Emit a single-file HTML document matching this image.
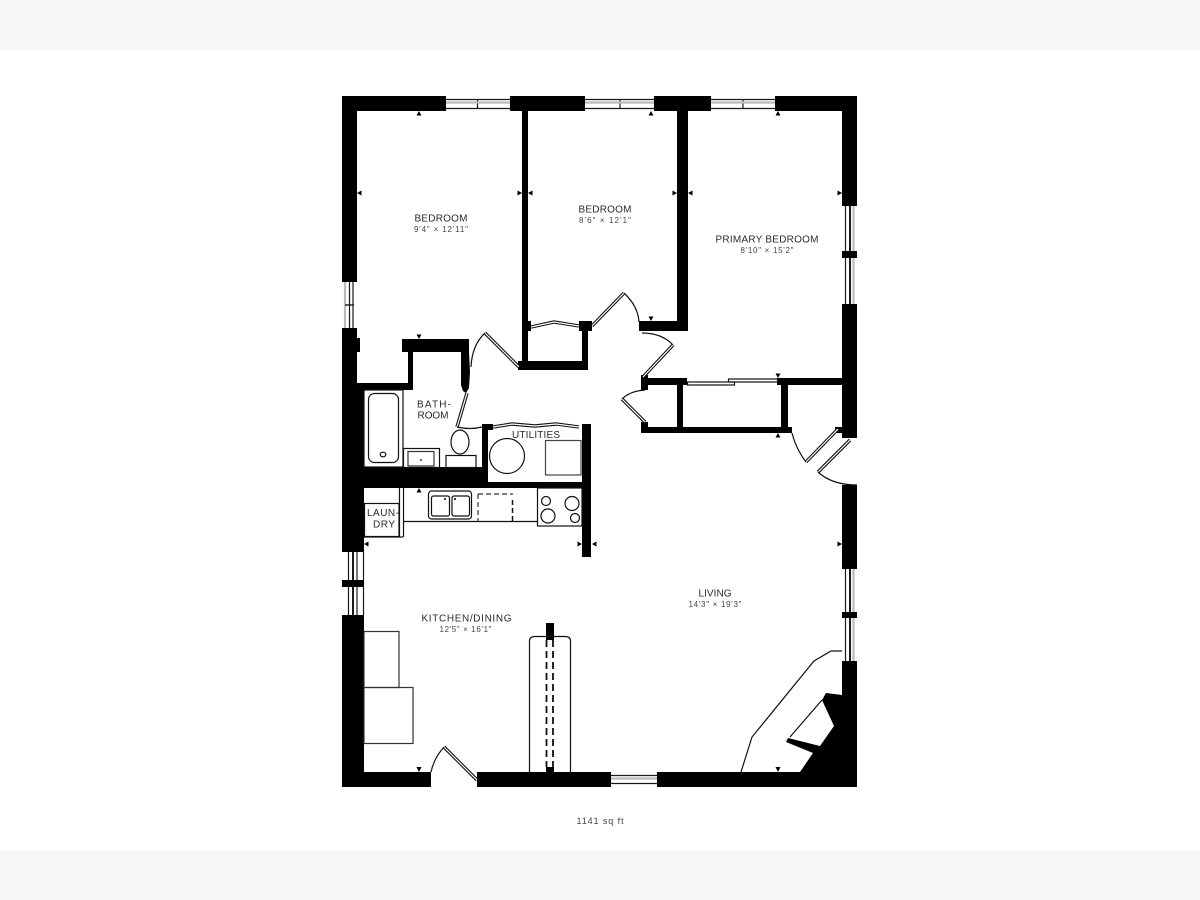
<!DOCTYPE html>
<html><head><meta charset="utf-8"><style>
html,body{margin:0;padding:0;background:#fff}
svg{display:block}
text{font-family:"Liberation Sans",sans-serif;text-anchor:middle;fill:#2a2a2a}
.n{font-size:10px}.d{font-size:8px;fill:#444}
</style></head><body>
<svg width="1200" height="900" viewBox="0 0 1200 900" xmlns="http://www.w3.org/2000/svg">
<rect width="1200" height="900" fill="#fff"/>
<rect width="1200" height="50" fill="#f6f6f8"/>
<rect y="850" width="1200" height="50" fill="#f6f6f8"/>

<!-- windows -->
<g fill="none" stroke="#1a1a1a" stroke-width="1.200">
<path d="M446 99.500H510M446 108.500H510M477.500 99V109M585 99.500H654M585 108.500H654M620 99V109M711 99.500H775M711 108.500H775M743 99V109"/>
<path d="M845.500 206V304M845.500 569V661"/>
<path d="M349.500 282V328M353 282V328"/>
<path d="M348.500 552V615M357 552V615M363.500 552V615"/>
<path d="M611 775.500H657M611 783.500H657"/>
</g>
<g fill="none" stroke="#1a1a1a" stroke-width="2">
<path d="M850 206V304M850 569V661M353 552V615"/>
</g>
<g fill="none" stroke="#bbb" stroke-width="2.200">
<path d="M446 102.500H510M585 102.500H654M711 102.500H775M853.500 206V304M853.500 569V661M345 282V328M611 778.500H657"/>
</g>
<path d="M345 305H354" stroke="#222" stroke-width="1.500"/>

<!-- walls -->
<g fill="#000">
<rect x="342" y="96" width="104" height="15"/>
<rect x="510" y="96" width="75" height="15"/>
<rect x="654" y="96" width="57" height="15"/>
<rect x="775" y="96" width="82" height="15"/>
<rect x="842" y="96" width="15" height="110"/>
<rect x="842" y="251" width="15" height="7"/>
<rect x="842" y="304" width="15" height="134"/>
<rect x="842" y="485" width="15" height="84"/>
<rect x="842" y="612" width="15" height="6"/>
<rect x="842" y="661" width="15" height="126"/>
<rect x="342" y="772" width="89" height="15"/>
<rect x="477" y="772" width="134" height="15"/>
<rect x="657" y="772" width="200" height="15"/>
<rect x="342" y="96" width="15" height="186"/>
<rect x="342" y="328" width="15" height="60"/>
<rect x="357" y="338" width="3" height="14"/>
<rect x="342" y="383" width="22" height="169"/>
<rect x="342" y="580" width="22" height="7"/>
<rect x="342" y="615" width="22" height="172"/>
<rect x="522" y="111" width="6" height="255"/>
<rect x="518" y="361" width="70" height="9"/>
<rect x="582" y="321" width="6" height="42"/>
<rect x="579" y="321" width="13" height="10"/>
<rect x="528" y="321" width="3" height="10"/>
<rect x="677" y="111" width="11" height="220"/>
<rect x="639" y="321" width="49" height="10"/>
<rect x="641" y="378" width="46" height="7"/>
<rect x="777" y="378" width="65" height="7"/>
<rect x="641" y="375" width="7" height="15"/>
<rect x="641" y="422" width="7" height="11"/>
<rect x="641" y="427" width="151" height="6"/>
<rect x="677" y="385" width="6" height="42"/>
<rect x="781" y="385" width="7" height="42"/>
<rect x="835" y="427" width="8" height="6"/>
<rect x="402" y="339" width="67" height="13"/>
<rect x="408" y="352" width="5" height="38"/>
<rect x="357" y="383" width="56" height="7"/>
<polygon points="461,352 469,352 470,372 469,388 466,393 463,391 461,385"/>
<rect x="364" y="467" width="124" height="21"/>
<rect x="482" y="425" width="6" height="45"/>
<rect x="482" y="424" width="11" height="6"/>
<rect x="488" y="482" width="103" height="6"/>
<rect x="582" y="424" width="9" height="133"/>
<rect x="546" y="623" width="8" height="17"/>
<rect x="546" y="767" width="8" height="5"/>
<polygon points="842,695 826,693 822,700 834,726 820,746 788,738 786,742 813,753 800,772 842,772"/>
</g>

<!-- door leaves -->
<g fill="none" stroke="#111" stroke-width="3.400">
<path d="M519 367L485 333M592 326L624 293M673 345L643 377M622 399L645 422M806 462L838 429M818 472L850 440M467 393L457 427M444 747L477 780"/>
<path d="M531 327L554 322L579 326M493 427L512 424L535 426L556 424L579 427"/>
</g>
<g fill="none" stroke="#fff" stroke-width="1.200">
<path d="M519 367L485 333M592 326L624 293M673 345L643 377M622 399L645 422M806 462L838 429M818 472L850 440M467 393L457 427M444 747L477 780"/>
<path d="M531 327L554 322L579 326M493 427L512 424L535 426L556 424L579 427"/>
</g>

<!-- arcs and fixtures -->
<g fill="none" stroke="#111" stroke-width="1.200">
<path d="M471 367Q472 345 485 333"/>
<path d="M624 293Q638 306 639 322"/>
<path d="M642 333Q662 333 673 345"/>
<path d="M645 390Q630 391 622 399"/>
<path d="M792 433Q796 449 806 462"/>
<path d="M818 472Q832 485 857 485"/>
<path d="M457 427Q470 430 482 427"/>
<path d="M431 772Q434 758 444 747"/>
<rect x="687.500" y="382" width="47" height="3"/>
<rect x="728.500" y="379" width="49" height="3"/>
<rect x="364" y="390" width="39" height="77"/>
<rect x="368.500" y="393.500" width="30" height="69" rx="6"/>
<ellipse cx="383" cy="454.500" rx="2.800" ry="2.300"/>
<rect x="403.500" y="448.500" width="36" height="19"/>
<rect x="408" y="451.500" width="26" height="14.500" stroke="#333"/>
<ellipse cx="460" cy="442" rx="9" ry="12"/>
<rect x="446" y="455.500" width="30" height="12" fill="#fff"/>
<circle cx="507" cy="456" r="17.500"/>
<rect x="545.500" y="440.500" width="35.500" height="34.500" stroke="#444"/>
<path d="M399.500 488V537M403.500 488V537M403 537H364"/>
<rect x="364.500" y="503.500" width="34.500" height="33" stroke-width="1.200"/>
<path d="M403 521.500H537"/>
<rect x="428.500" y="491" width="43" height="28" rx="3"/>
<rect x="431.500" y="496" width="18" height="20" rx="2"/>
<rect x="452" y="496" width="17.500" height="20" rx="2"/>
<rect x="537.500" y="488" width="44.500" height="38" />
<circle cx="546" cy="501" r="4.500"/>
<circle cx="572" cy="503.500" r="7"/>
<circle cx="548" cy="516" r="7"/>
<circle cx="575" cy="518" r="4.500"/>
<path d="M478 494H513M478 494V521" stroke-dasharray="5 3" stroke="#333"/>
<path d="M512.500 500V521" stroke-dasharray="5 3" stroke-width="1.500"/>
<rect x="364" y="631.500" width="35" height="56" stroke="#333"/>
<rect x="364" y="687.500" width="49" height="56" stroke="#333"/>
<path d="M529.500 772V641Q529.500 636.500 535 636.500H565Q570.500 636.500 570.500 641V772"/>
<path d="M546.500 640V767M553 640V767" stroke-width="1.800" stroke-dasharray="7 4"/>
<path d="M842 651H831L814 661L752 737L741 772"/>
<path d="M790 737L822 700"/>
</g>
<g fill="#000">
<circle cx="421" cy="460" r="0.900"/>
<circle cx="445" cy="499" r="1"/>
<circle cx="455" cy="499" r="1"/>
</g>

<!-- dimension ticks -->
<g fill="#000">
<path d="M416.500 115.500L419 111L421.500 115.500ZM648.500 115.500L651 111L653.500 115.500ZM775.500 115.500L778 111L780.500 115.500ZM416.500 492.500L419 488L421.500 492.500ZM775.500 437.500L778 433L780.500 437.500Z"/>
<path d="M416.500 334.500L419 339L421.500 334.500ZM648.500 316.500L651 321L653.500 316.500ZM775.500 373.500L778 378L780.500 373.500ZM416.500 767L419 772L421.500 767ZM775.500 767L778 772L780.500 767Z"/>
<path d="M361.500 190.500L357 193L361.500 195.500ZM532.500 190.500L528 193L532.500 195.500ZM692.500 190.500L688 193L692.500 195.500ZM368.500 541.500L364 544L368.500 546.500ZM596.500 541.500L592 544L596.500 546.500Z"/>
<path d="M517.500 190.500L522 193L517.500 195.500ZM672.500 190.500L677 193L672.500 195.500ZM837.500 190.500L842 193L837.500 195.500ZM837.500 541.500L842 544L837.500 546.500ZM577.500 541.500L582 544L577.500 546.500Z"/>
</g>

<!-- labels -->
<text class="n" x="441" y="221.500" textLength="53" lengthAdjust="spacing">BEDROOM</text>
<text class="d" x="441" y="232" textLength="54" lengthAdjust="spacing">9'4" × 12'11"</text>
<text class="n" x="605" y="212.500" textLength="53" lengthAdjust="spacing">BEDROOM</text>
<text class="d" x="605" y="223" textLength="52" lengthAdjust="spacing">8'6" × 12'1"</text>
<text class="n" x="767" y="242.500" textLength="103" lengthAdjust="spacing">PRIMARY BEDROOM</text>
<text class="d" x="767" y="253" textLength="53" lengthAdjust="spacing">8'10" × 15'2"</text>
<text class="n" x="434" y="407.500" textLength="34" lengthAdjust="spacing">BATH-</text>
<text class="n" x="433" y="418.500" textLength="31" lengthAdjust="spacing">ROOM</text>
<text class="n" x="536" y="438" textLength="48" lengthAdjust="spacing">UTILITIES</text>
<text class="n" x="383" y="516" textLength="32" lengthAdjust="spacing">LAUN-</text>
<text class="n" x="384" y="527.500" textLength="22" lengthAdjust="spacing">DRY</text>
<text class="n" x="466.500" y="621.500" textLength="90" lengthAdjust="spacing">KITCHEN/DINING</text>
<text class="d" x="465.500" y="632" textLength="52" lengthAdjust="spacing">12'5" × 16'1"</text>
<text class="n" x="715" y="596.500" textLength="33" lengthAdjust="spacing">LIVING</text>
<text class="d" x="715" y="607" textLength="53" lengthAdjust="spacing">14'3" × 19'3"</text>
<text class="d" x="600" y="824" textLength="47" lengthAdjust="spacing" style="font-size:9px">1141 sq ft</text>
</svg>
</body></html>
